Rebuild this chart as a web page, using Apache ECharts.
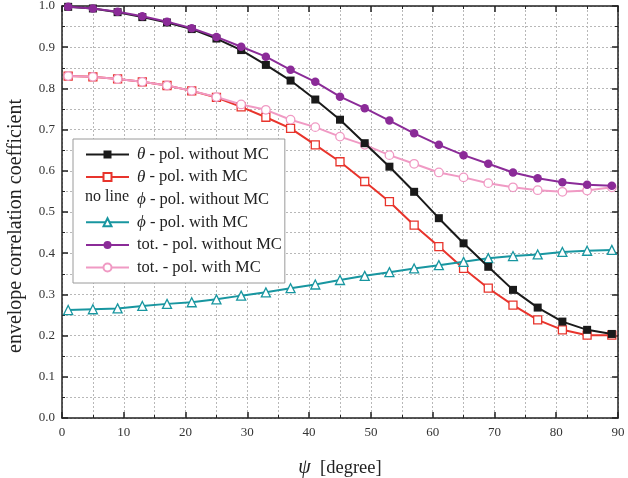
<!DOCTYPE html>
<html><head><meta charset="utf-8">
<script src="https://cdn.jsdelivr.net/npm/echarts@6/dist/echarts.min.js"></script>
<style>html,body{margin:0;padding:0;background:#fff}#c{width:628px;height:478px}</style>
</head><body><div id="c"></div>
<script>
var psi = [1,5,9,13,17,21,25,29,33,37,41,45,49,53,57,61,65,69,73,77,81,85,89];
var thetaNoMC = [0.998,0.994,0.985,0.973,0.960,0.944,0.921,0.893,0.857,0.819,0.773,0.724,0.667,0.610,0.549,0.485,0.424,0.367,0.311,0.268,0.234,0.214,0.204];
var thetaMC = [0.830,0.828,0.823,0.816,0.807,0.794,0.778,0.755,0.730,0.703,0.663,0.622,0.574,0.525,0.468,0.416,0.363,0.315,0.274,0.238,0.214,0.201,0.201];
var phiMC = [0.262,0.264,0.266,0.272,0.277,0.281,0.288,0.297,0.305,0.315,0.324,0.335,0.345,0.354,0.363,0.371,0.379,0.388,0.393,0.397,0.403,0.406,0.408];
var totNoMC = [0.998,0.994,0.986,0.975,0.962,0.946,0.925,0.901,0.877,0.845,0.816,0.780,0.752,0.722,0.691,0.663,0.638,0.617,0.596,0.582,0.572,0.566,0.564];
var totMC = [0.830,0.828,0.823,0.816,0.807,0.794,0.779,0.761,0.748,0.724,0.706,0.683,0.663,0.638,0.617,0.596,0.584,0.570,0.560,0.553,0.549,0.552,0.560];
var seriesNames = ['θ - pol. without MC','θ - pol. with MC','ϕ - pol. without MC','ϕ - pol. with MC','tot. - pol. without MC','tot. - pol. with MC'];

function pairs(v){ return psi.map(function(x,i){ return [x, v[i]]; }); }
var serif = 'Liberation Serif';
var chart = echarts.init(document.getElementById('c'));
function mkSeries(name, vals, color, symbol, size, hollow, z){
  return {name:name, type:'line', data:pairs(vals), symbol:symbol, symbolSize:size, z:z,
    lineStyle:{color:color, width:2},
    itemStyle:{color: hollow ? '#fff' : color, borderColor:color, borderWidth: hollow ? 1.3 : 0},
    emphasis:{disabled:true}, animation:false};
}
var gridLine = {show:true, lineStyle:{color:'#b8b8b8', type:[2,2], width:1}};
var option = {
  animation:false,
  grid:{left:62, right:10, top:6, bottom:60, outerBoundsMode:'none', containLabel:false},
  legend:{
    orient:'vertical', left:73, top:139, selectedMode:false,
    itemWidth:43, itemHeight:10, itemGap:5.6,
    padding:[7,3,7,12],
    borderColor:'#9a9a9a', borderWidth:1, backgroundColor:'#fff',
    data:[
      {name:seriesNames[0]},{name:seriesNames[1]},
      {name:seriesNames[2], icon:'rect', itemStyle:{color:'rgba(0,0,0,0)', borderWidth:0, opacity:0}},
      {name:seriesNames[3]},{name:seriesNames[4]},{name:seriesNames[5]}
    ],
    formatter:function(n){
      if(n.charAt(0)==='θ' || n.charAt(0)==='ϕ'){ return '{g|'+n.charAt(0)+'}'+n.slice(1); }
      return n;
    },
    textStyle:{fontFamily:serif, fontSize:16.5, color:'#222', lineHeight:16, padding:[0,0,0,3],
      rich:{g:{fontFamily:serif, fontStyle:'italic', fontSize:17, color:'#222'}}}
  },
  graphic:[{type:'text', left:85, top:189, z:100, style:{text:'no line', font:'16px "Liberation Serif"', fill:'#222'}}],
  xAxis:[{
    type:'value', min:0, max:90, interval:10, position:'bottom',
    name:'{p|ψ}  [degree]', nameLocation:'middle', nameGap:40,
    nameTextStyle:{fontFamily:serif, fontSize:18.5, color:'#222',
      rich:{p:{fontFamily:serif, fontStyle:'italic', fontSize:20, color:'#222'}}},
    axisLine:{show:true, onZero:false, lineStyle:{color:'#222', width:1.5}},
    axisTick:{show:true, inside:true, length:6, lineStyle:{color:'#222', width:1.5}},
    minorTick:{show:true, splitNumber:2, length:3, lineStyle:{color:'#222', width:1}},
    axisLabel:{fontFamily:serif, fontSize:13, color:'#333', margin:8},
    splitLine:gridLine, minorSplitLine:gridLine
  },{
    type:'value', min:0, max:90, interval:10, position:'top',
    axisLine:{show:true, onZero:false, lineStyle:{color:'#222', width:1.5}},
    axisTick:{show:true, inside:true, length:6, lineStyle:{color:'#222', width:1.5}},
    minorTick:{show:true, splitNumber:2, length:3, lineStyle:{color:'#222', width:1}},
    axisLabel:{show:false}, splitLine:{show:false}
  }],
  yAxis:[{
    type:'value', min:0, max:1, interval:0.1, position:'left',
    name:'envelope correlation coefficient', nameLocation:'middle', nameGap:36,
    nameTextStyle:{fontFamily:serif, fontSize:20, color:'#222', padding:[0,28,0,0]},
    axisLine:{show:true, onZero:false, lineStyle:{color:'#222', width:1.5}},
    axisTick:{show:true, inside:true, length:6, lineStyle:{color:'#222', width:1.5}},
    minorTick:{show:true, splitNumber:2, length:3, lineStyle:{color:'#222', width:1}},
    axisLabel:{fontFamily:serif, fontSize:13, color:'#333', margin:7, formatter:function(v){return v.toFixed(1);}},
    splitLine:gridLine, minorSplitLine:gridLine
  },{
    type:'value', min:0, max:1, interval:0.1, position:'right',
    axisLine:{show:true, onZero:false, lineStyle:{color:'#222', width:1.5}},
    axisTick:{show:true, inside:true, length:6, lineStyle:{color:'#222', width:1.5}},
    minorTick:{show:true, splitNumber:2, length:3, lineStyle:{color:'#222', width:1}},
    axisLabel:{show:false}, splitLine:{show:false}
  }],
  series:[
    mkSeries(seriesNames[0], thetaNoMC, '#1a1a1a', 'rect', 8, false, 3),
    mkSeries(seriesNames[1], thetaMC, '#e8342c', 'rect', 8, true, 2),
    {name:seriesNames[2], type:'line', data:[], symbol:'none', lineStyle:{opacity:0}, itemStyle:{opacity:0}},
    mkSeries(seriesNames[3], phiMC, '#1896a0', 'triangle', 9, true, 2),
    mkSeries(seriesNames[5], totMC, '#f09ac4', 'circle', 8.5, true, 2),
    mkSeries(seriesNames[4], totNoMC, '#8b2b98', 'circle', 8.5, false, 4)
  ]
};
chart.setOption(option);
</script></body></html>
